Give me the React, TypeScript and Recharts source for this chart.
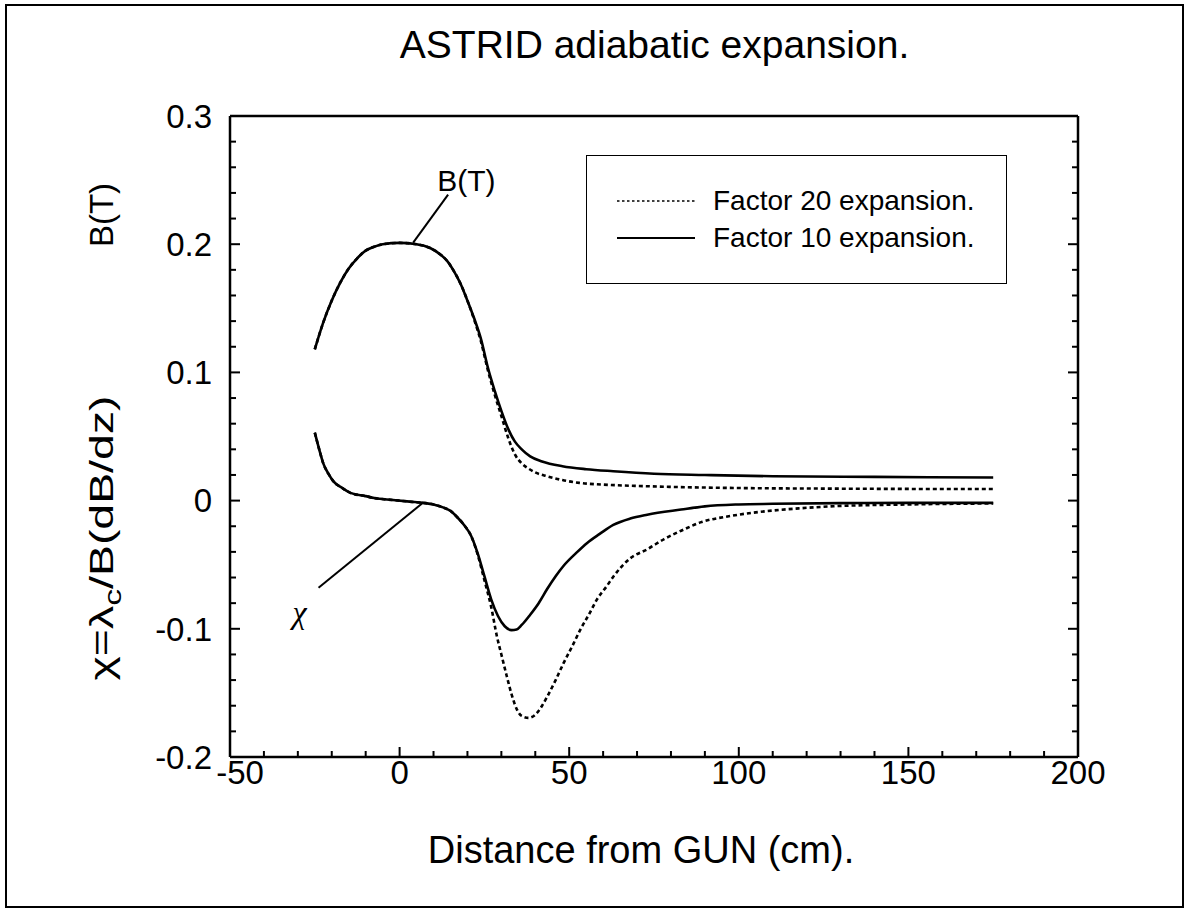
import React from 'react';
import { LineChart, Line, XAxis, YAxis, Legend, ReferenceLine, ReferenceDot, Label } from 'recharts';

// ---------- data ----------
const bField10 = [
  { x: -25, y: 0.118 }, { x: -22.5, y: 0.139 }, { x: -20, y: 0.156 }, { x: -17.5, y: 0.17 },
  { x: -15, y: 0.181 }, { x: -12.5, y: 0.189 }, { x: -10, y: 0.195 }, { x: -7.5, y: 0.198 },
  { x: -5, y: 0.2 }, { x: 0, y: 0.201 }, { x: 5, y: 0.2 }, { x: 9, y: 0.197 },
  { x: 12, y: 0.192 }, { x: 14, y: 0.187 }, { x: 16, y: 0.179 }, { x: 18, y: 0.169 },
  { x: 20, y: 0.156 }, { x: 22, y: 0.142 }, { x: 24, y: 0.126 }, { x: 26, y: 0.104 },
  { x: 28, y: 0.086 }, { x: 30, y: 0.07 }, { x: 32, y: 0.056 }, { x: 34, y: 0.046 },
  { x: 36, y: 0.04 }, { x: 38.5, y: 0.0345 }, { x: 42, y: 0.0305 }, { x: 48, y: 0.0268 },
  { x: 55, y: 0.0245 }, { x: 63, y: 0.0229 }, { x: 75, y: 0.021 }, { x: 90, y: 0.02 },
  { x: 110, y: 0.019 }, { x: 140, y: 0.0185 }, { x: 175, y: 0.018 },
];

const bField20 = [
  { x: -25, y: 0.118 }, { x: -22.5, y: 0.139 }, { x: -20, y: 0.156 }, { x: -17.5, y: 0.17 },
  { x: -15, y: 0.181 }, { x: -12.5, y: 0.189 }, { x: -10, y: 0.195 }, { x: -7.5, y: 0.198 },
  { x: -5, y: 0.2 }, { x: 0, y: 0.201 }, { x: 5, y: 0.2 }, { x: 9, y: 0.197 },
  { x: 12, y: 0.192 }, { x: 14, y: 0.187 }, { x: 16, y: 0.179 }, { x: 18, y: 0.169 },
  { x: 20, y: 0.156 }, { x: 22, y: 0.141 }, { x: 24, y: 0.124 }, { x: 26, y: 0.102 },
  { x: 28, y: 0.083 }, { x: 30, y: 0.066 }, { x: 32, y: 0.049 }, { x: 34, y: 0.036 },
  { x: 36, y: 0.029 }, { x: 38, y: 0.025 }, { x: 40, y: 0.022 }, { x: 43.5, y: 0.019 },
  { x: 48, y: 0.016 }, { x: 53, y: 0.0138 }, { x: 60, y: 0.0125 }, { x: 73, y: 0.0112 },
  { x: 97, y: 0.0099 }, { x: 130, y: 0.0093 }, { x: 175, y: 0.009 },
];

const chi10 = [
  { x: -25, y: 0.053 }, { x: -23.5, y: 0.038 }, { x: -22.5, y: 0.029 }, { x: -21, y: 0.021 },
  { x: -19.5, y: 0.015 }, { x: -17, y: 0.01 }, { x: -14.5, y: 0.006 }, { x: -10, y: 0.0035 },
  { x: -7.5, y: 0.002 }, { x: -2, y: 0.0005 }, { x: 3, y: -0.0008 }, { x: 7, y: -0.0018 },
  { x: 10, y: -0.003 }, { x: 13, y: -0.0055 }, { x: 15, y: -0.008 }, { x: 17, y: -0.013 },
  { x: 19, y: -0.019 }, { x: 21, y: -0.027 }, { x: 23, y: -0.041 }, { x: 25, y: -0.059 },
  { x: 27, y: -0.077 }, { x: 29, y: -0.09 }, { x: 31, y: -0.098 }, { x: 33, y: -0.101 },
  { x: 34.5, y: -0.1005 }, { x: 36, y: -0.097 }, { x: 38.5, y: -0.089 }, { x: 41, y: -0.08 },
  { x: 43.5, y: -0.069 }, { x: 46, y: -0.059 }, { x: 48.3, y: -0.051 }, { x: 52, y: -0.041 },
  { x: 55.3, y: -0.033 }, { x: 59, y: -0.026 }, { x: 63, y: -0.019 }, { x: 68, y: -0.014 },
  { x: 73, y: -0.011 }, { x: 83, y: -0.007 }, { x: 90, y: -0.0045 }, { x: 100, y: -0.003 },
  { x: 110, y: -0.0025 }, { x: 130, y: -0.002 }, { x: 150, y: -0.0018 }, { x: 175, y: -0.0018 },
];

const chi20 = [
  { x: -25, y: 0.053 }, { x: -23.5, y: 0.038 }, { x: -22.5, y: 0.029 }, { x: -21, y: 0.021 },
  { x: -19.5, y: 0.015 }, { x: -17, y: 0.01 }, { x: -14.5, y: 0.006 }, { x: -10, y: 0.0035 },
  { x: -7.5, y: 0.002 }, { x: -2, y: 0.0005 }, { x: 3, y: -0.0008 }, { x: 7, y: -0.0018 },
  { x: 10, y: -0.003 }, { x: 13, y: -0.0055 }, { x: 15, y: -0.008 }, { x: 17, y: -0.013 },
  { x: 19, y: -0.019 }, { x: 21, y: -0.027 }, { x: 23, y: -0.042 }, { x: 25, y: -0.062 },
  { x: 27, y: -0.083 }, { x: 28.7, y: -0.106 }, { x: 30, y: -0.12 }, { x: 31.6, y: -0.137 },
  { x: 33, y: -0.151 }, { x: 34.6, y: -0.163 }, { x: 36, y: -0.168 }, { x: 38, y: -0.1695 },
  { x: 40, y: -0.167 }, { x: 42, y: -0.16 }, { x: 43.5, y: -0.153 }, { x: 46, y: -0.14 },
  { x: 48.3, y: -0.127 }, { x: 51, y: -0.113 }, { x: 53.3, y: -0.1006 }, { x: 56, y: -0.088 },
  { x: 58.2, y: -0.077 }, { x: 61, y: -0.067 }, { x: 63.1, y: -0.059 }, { x: 68, y: -0.045 },
  { x: 73, y: -0.038 }, { x: 78, y: -0.03 }, { x: 83, y: -0.0235 }, { x: 88.7, y: -0.017 },
  { x: 97.6, y: -0.012 }, { x: 108, y: -0.0083 }, { x: 118, y: -0.006 }, { x: 128, y: -0.0044 },
  { x: 150, y: -0.003 }, { x: 175, y: -0.0022 },
];

const xTicks = [-50, -40, -30, -20, -10, 0, 10, 20, 30, 40, 50, 60, 70, 80, 90, 100, 110, 120, 130, 140, 150, 160, 170, 180, 190, 200];
const xTickLabels = ['-50', '0', '50', '100', '150', '200'];
const yTicks = [-0.2, -0.18, -0.16, -0.14, -0.12, -0.1, -0.08, -0.06, -0.04, -0.02, 0, 0.02, 0.04, 0.06, 0.08, 0.1, 0.12, 0.14, 0.16, 0.18, 0.2, 0.22, 0.24, 0.26, 0.28, 0.3];
const yTickLabels = ['-0.2', '-0.1', '0', '0.1', '0.2', '0.3'];

const legendNames = ['Factor 20 expansion.', 'Factor 10 expansion.'];
const titleText = 'ASTRID adiabatic expansion.';
const xAxisTitle = 'Distance from GUN (cm).';

// ---------- styles ----------
const FONT = '"Liberation Sans", Arial, Helvetica, sans-serif';
const SERIF = '"Liberation Serif", "DejaVu Serif", serif';
const W = 1190;
const H = 914;
const PLOT_L = 230;
const PLOT_T = 116;
const PLOT_R = 1078;
const PLOT_B = 757;
const LEFT_W = 120;
const RIGHT_W = 10;
const TOP_H = 10;
const BOTTOM_H = 40;
const MAJOR = 10;
const MINOR = 6;
const TICK_FONT = 33;
const DOTTED = '4 3';

const fmtX = (v: number) => String(Math.round(v));
const fmtY = (v: number) => String(Math.round(v * 10) / 10);

const BottomTick = (p: any) => {
  const v = p.payload.value;
  const label = fmtX(v);
  const major = xTickLabels.includes(label) && Math.abs(v % 50) < 1e-6;
  const axisY = p.y - 4;
  const shift = v === -50 ? 10 : 0;
  return (
    <g>
      <line x1={p.x} x2={p.x} y1={axisY} y2={axisY - (major ? MAJOR : MINOR)} stroke="#000" strokeWidth={2} />
      {major && (
        <text x={p.x + shift} y={p.y} dy="0.71em" textAnchor="middle" fontSize={TICK_FONT} fontFamily={FONT} fill="#000">
          {label}
        </text>
      )}
    </g>
  );
};

const TopTick = (p: any) => {
  const v = p.payload.value;
  const major = Math.abs(v % 50) < 1e-6;
  return <line x1={p.x} x2={p.x} y1={p.y} y2={p.y + (major ? MAJOR : MINOR)} stroke="#000" strokeWidth={2} />;
};

const isMajorY = (v: number) => Math.abs(v * 10 - Math.round(v * 10)) < 1e-6;

const LeftTick = (p: any) => {
  const v = p.payload.value;
  const major = isMajorY(v);
  const label = fmtY(v);
  const axisX = p.x + 18;
  return (
    <g>
      <line x1={axisX} x2={axisX + (major ? MAJOR : MINOR)} y1={p.y} y2={p.y} stroke="#000" strokeWidth={2} />
      {major && yTickLabels.includes(label) && (
        <text x={p.x} y={p.y} dy="0.36em" textAnchor="end" fontSize={TICK_FONT} fontFamily={FONT} fill="#000">
          {label}
        </text>
      )}
    </g>
  );
};

const RightTick = (p: any) => {
  const v = p.payload.value;
  const major = isMajorY(v);
  return <line x1={p.x} x2={p.x - (major ? MAJOR : MINOR)} y1={p.y} y2={p.y} stroke="#000" strokeWidth={2} />;
};

const YTitles = () => {
  const cx = 101;
  return (
    <g fontFamily={FONT} fill="#000">
      <text x={cx} y={215} dy="0.36em" fontSize={33} textAnchor="middle" transform={`rotate(-90 ${cx} 215)`}>B(T)</text>
      <text
        x={cx}
        y={538}
        dy="0.36em"
        fontSize={33}
        textAnchor="middle"
        textLength={285}
        lengthAdjust="spacingAndGlyphs"
        transform={`rotate(-90 ${cx} 538)`}
      >
        <tspan>χ=λ</tspan>
        <tspan fontSize={24} dy={8}>c</tspan>
        <tspan dy={-8}>/B(dB/dz)</tspan>
      </text>
    </g>
  );
};

const XTitle = (props: any) => {
  const vb = props.viewBox || {};
  const cx = vb.x + vb.width / 2 - 13;
  return (
    <text x={cx} y={863} textAnchor="middle" fontSize={38} fontFamily={FONT} fill="#000">
      {xAxisTitle}
    </text>
  );
};

const LegendBox = (props: any) => {
  const items = (props.payload || []).filter((e: any) => legendNames.includes(e.value));
  const ordered = legendNames.map((n) => items.find((e: any) => e.value === n)).filter(Boolean);
  return (
    <div
      style={{
        width: 421,
        height: 129,
        border: '1.5px solid #000',
        boxSizing: 'border-box',
        background: '#fff',
        position: 'relative',
        fontFamily: FONT,
      }}
    >
      {ordered.map((e: any, i: number) => (
        <div key={e.value} style={{ position: 'absolute', left: 30, top: 30 + i * 37, height: 30, display: 'flex', alignItems: 'center' }}>
          <svg width={78} height={10} style={{ display: 'block' }}>
            <line x1={0} x2={78} y1={5} y2={5} stroke="#000" strokeWidth={e.value.includes('20') ? 1.5 : 2.2} strokeDasharray={e.value.includes('20') ? '2.5 2.5' : undefined} />
          </svg>
          <span style={{ marginLeft: 18, fontSize: 28, color: '#000', whiteSpace: 'nowrap' }}>{e.value}</span>
        </div>
      ))}
    </div>
  );
};

export default function App() {
  return (
    <div style={{ position: 'absolute', left: 0, top: 0, width: W, height: H, background: '#fff' }}>
      <div style={{ position: 'absolute', left: 5, top: 4, width: 1179, height: 904, border: '2px solid #000', boxSizing: 'border-box' }} />
      <div style={{ position: 'absolute', left: 0, top: 23, width: 1309, textAlign: 'center', fontFamily: FONT, fontSize: 39, color: '#000', whiteSpace: 'nowrap' }}>
        {titleText}
      </div>
      <div style={{ position: 'absolute', left: 0, top: 0 }}>
        <LineChart
          width={W}
          height={H}
          margin={{ top: PLOT_T - TOP_H, left: PLOT_L - LEFT_W, right: W - PLOT_R - RIGHT_W, bottom: H - PLOT_B - BOTTOM_H }}
        >
          <XAxis
            xAxisId="bottom"
            dataKey="x"
            type="number"
            domain={[-50, 200]}
            ticks={xTicks}
            interval={0}
            height={BOTTOM_H}
            tickSize={0}
            tickMargin={4}
            tick={<BottomTick />}
            axisLine={{ stroke: '#000', strokeWidth: 2.5 }}
            allowDataOverflow
          >
            <Label content={<XTitle />} />
          </XAxis>
          <XAxis
            xAxisId="top"
            orientation="top"
            type="number"
            domain={[-50, 200]}
            ticks={xTicks}
            interval={0}
            height={TOP_H}
            tickSize={0}
            tickMargin={0}
            tick={<TopTick />}
            axisLine={{ stroke: '#000', strokeWidth: 2.5 }}
            allowDataOverflow
          />
          <YAxis
            yAxisId="left"
            type="number"
            domain={[-0.2, 0.3]}
            ticks={yTicks}
            interval={0}
            width={LEFT_W}
            tickSize={0}
            tickMargin={18}
            tick={<LeftTick />}
            axisLine={{ stroke: '#000', strokeWidth: 2.5 }}
            allowDataOverflow
          >
            <Label content={<YTitles />} />
          </YAxis>
          <YAxis
            yAxisId="right"
            orientation="right"
            type="number"
            domain={[-0.2, 0.3]}
            ticks={yTicks}
            interval={0}
            width={RIGHT_W}
            tickSize={0}
            tickMargin={0}
            tick={<RightTick />}
            axisLine={{ stroke: '#000', strokeWidth: 2.5 }}
            allowDataOverflow
          />
          <Legend
            layout="vertical"
            align="center"
            verticalAlign="middle"
            content={<LegendBox />}
            wrapperStyle={{ position: 'absolute', left: 586, top: 155, width: 421, height: 129 }}
          />
          <Line
            xAxisId="bottom"
            yAxisId="left"
            data={bField20}
            dataKey="y"
            name={legendNames[0]}
            type="monotone"
            stroke="#000"
            strokeWidth={2.6}
            strokeDasharray={DOTTED}
            dot={false}
            isAnimationActive={false}
          />
          <Line
            xAxisId="bottom"
            yAxisId="left"
            data={bField10}
            dataKey="y"
            name={legendNames[1]}
            type="monotone"
            stroke="#000"
            strokeWidth={2.6}
            dot={false}
            isAnimationActive={false}
          />
          <Line
            xAxisId="bottom"
            yAxisId="left"
            data={chi20}
            dataKey="y"
            name="chi20"
            legendType="none"
            type="monotone"
            stroke="#000"
            strokeWidth={2.6}
            strokeDasharray={DOTTED}
            dot={false}
            isAnimationActive={false}
          />
          <Line
            xAxisId="bottom"
            yAxisId="left"
            data={chi10}
            dataKey="y"
            name="chi10"
            legendType="none"
            type="monotone"
            stroke="#000"
            strokeWidth={2.6}
            dot={false}
            isAnimationActive={false}
          />
          <ReferenceLine
            xAxisId="bottom"
            yAxisId="left"
            segment={[{ x: 4, y: 0.2012 }, { x: 14.3, y: 0.2387 }]}
            stroke="#000"
            strokeWidth={2}
          />
          <ReferenceLine
            xAxisId="bottom"
            yAxisId="left"
            segment={[{ x: 7.06, y: -0.0013 }, { x: -23.9, y: -0.068 }]}
            stroke="#000"
            strokeWidth={2}
          />
          <ReferenceDot
            xAxisId="bottom"
            yAxisId="left"
            x={19.7}
            y={0.2496}
            r={0}
            fill="none"
            stroke="none"
            label={{ value: 'B(T)', position: 'center', fontSize: 30, fontFamily: FONT, fill: '#000' }}
          />
          <ReferenceDot
            xAxisId="bottom"
            yAxisId="left"
            x={-29.5}
            y={-0.087}
            r={0}
            fill="none"
            stroke="none"
            label={{ value: 'χ', position: 'center', fontSize: 32, fontFamily: SERIF, fontStyle: 'italic', fill: '#000' }}
          />
        </LineChart>
      </div>
    </div>
  );
}
